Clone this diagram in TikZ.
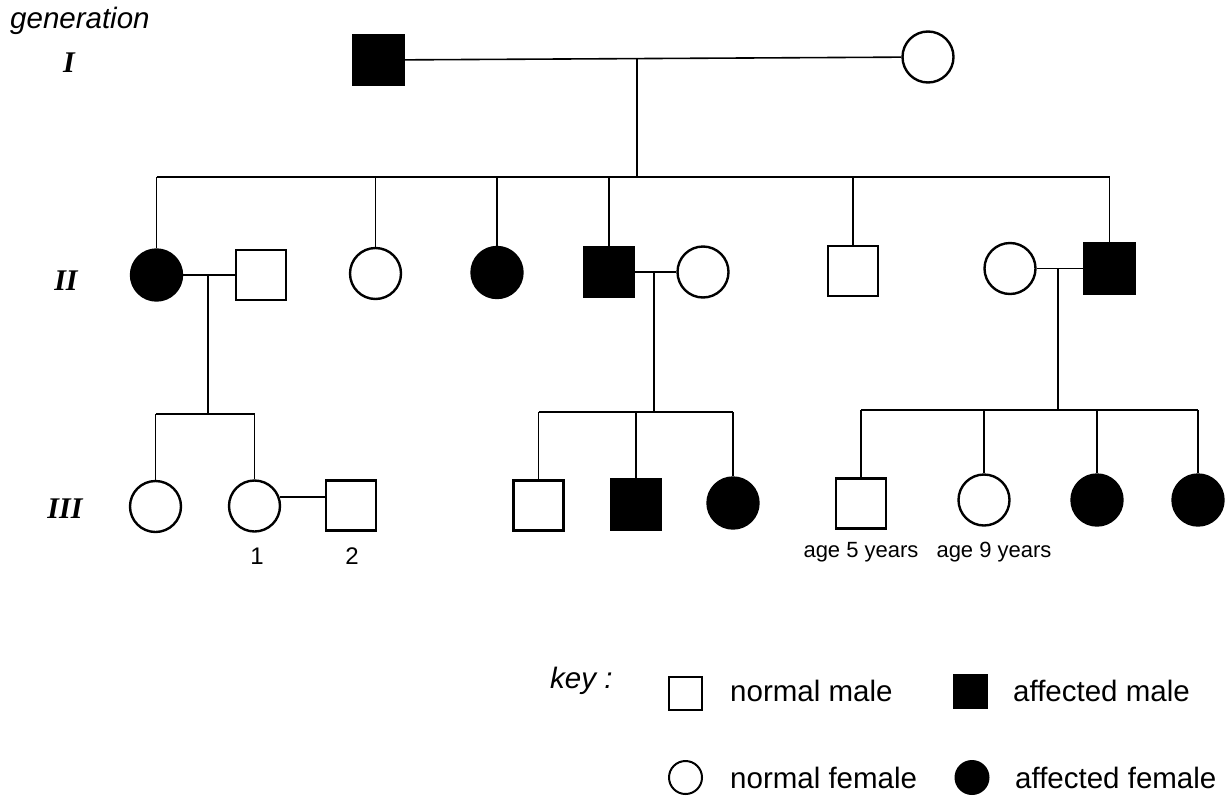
\documentclass[tikz,border=0pt]{standalone}
\usepackage{fontspec}
\setmainfont{Liberation Sans}
\newfontfamily\romfont{Liberation Serif}
\begin{document}
\begin{tikzpicture}[x=1pt,y=-1pt]
\tikzset{
  conn/.style={line width=1.6pt},
  male/.style={draw, rectangle, line width=2.4pt, minimum size=50pt, inner sep=0pt, fill=white},
  female/.style={draw, circle, line width=2.4pt, minimum size=51pt, inner sep=0pt, fill=white},
  aff/.style={fill=black},
  kmale/.style={draw, rectangle, line width=2pt, minimum size=33pt, inner sep=0pt, fill=white},
  kfemale/.style={draw, circle, line width=2pt, minimum size=33pt, inner sep=0pt, fill=white},
  lab/.style={font=\fontsize{29.5}{34}\selectfont, inner sep=0pt},
  gen/.style={font=\fontsize{30}{34}\selectfont\romfont\bfseries\itshape, inner sep=0pt},
  num/.style={font=\fontsize{24}{28}\selectfont, inner sep=0pt},
  small/.style={font=\fontsize{22}{26}\selectfont, inner sep=0pt}
}
\useasboundingbox (0,0) rectangle (1230,795);

% generation labels
\node[lab, anchor=base west] (tgen) at (10,28) {\itshape generation};
\node[gen, anchor=base] (gI) at (69,72) {I};
\node[gen, anchor=base] (gII) at (66,290) {II};
\node[gen, anchor=base] (gIII) at (65,518) {III};

% generation I
\node[male, aff] (m1) at (378.5,60) {};
\node[female] (f1) at (928,57) {};

% generation II
\node[female, aff] (a1) at (156.5,275) {};
\node[male] (a1s) at (261,275) {};
\node[female] (a2) at (375.5,273.5) {};
\node[female, aff] (a3) at (497,272.5) {};
\node[male, aff] (a4) at (609,272) {};
\node[female] (a4s) at (703,272) {};
\node[male] (a5) at (853,271) {};
\node[female] (a6) at (1010,268.5) {};
\node[male, aff] (a7) at (1109.5,268.5) {};

% generation III
\node[female] (b1) at (155.5,506.5) {};
\node[female] (b2) at (254.5,506) {};
\node[male] (b3) at (351,505.5) {};
\node[male] (b4) at (538.5,505.5) {};
\node[male, aff] (b5) at (636,504.5) {};
\node[female, aff] (b6) at (733,503) {};
\node[male] (b7) at (861,503.5) {};
\node[female] (b8) at (984,500) {};
\node[female, aff] (b9) at (1097,500) {};
\node[female, aff] (b10) at (1198,500) {};

\node[num, anchor=base] (n1) at (257,564) {1};
\node[num, anchor=base] (n2) at (352,564) {2};
\node[small, anchor=base] (age5) at (861,557) {age 5 years};
\node[small, anchor=base] (age9) at (994,557) {age 9 years};

% coordinates
\coordinate (mI) at (637,58.5);
\coordinate (sII) at (0,177);
\coordinate (mA1) at (208,275);
\coordinate (sA1) at (0,414);
\coordinate (mA4) at (654,272);
\coordinate (sA4) at (0,412);
\coordinate (mA6) at (1058,268.5);
\coordinate (sA6) at (0,410);

% connectors generation I
\draw[conn] (m1) -- (f1);
\draw[conn] (mI) -- (mI |- sII);
\draw[conn] (a1.north |- sII) -- (a7.north |- sII);
\foreach \n in {a1,a2,a3,a4,a5,a7}{
  \draw[conn] (\n.north |- sII) -- (\n.north);
}

% family II-1
\draw[conn] (a1) -- (a1s);
\draw[conn] (mA1) -- (mA1 |- sA1);
\draw[conn] (b1.north |- sA1) -- (b2.north |- sA1);
\draw[conn] (b1.north |- sA1) -- (b1.north);
\draw[conn] (b2.north |- sA1) -- (b2.north);
\draw[conn] (b2.20) -- (b2.20 -| b3.west);

% family II-4
\draw[conn] (a4) -- (a4s);
\draw[conn] (mA4) -- (mA4 |- sA4);
\draw[conn] (b4.north |- sA4) -- (b6.north |- sA4);
\foreach \n in {b4,b5,b6}{
  \draw[conn] (\n.north |- sA4) -- (\n.north);
}

% family II-6
\draw[conn] (a6) -- (a7);
\draw[conn] (mA6) -- (mA6 |- sA6);
\draw[conn] (b7.north |- sA6) -- (b10.north |- sA6);
\foreach \n in {b7,b8,b9,b10}{
  \draw[conn] (\n.north |- sA6) -- (\n.north);
}

% key
\node[lab, anchor=base west] (key) at (550,688) {\itshape key :};
\node[kmale] (k1) at (685.5,693) {};
\node[lab, anchor=base west] (t1) at (730,701) {normal male};
\node[kmale, aff] (k2) at (970.5,691) {};
\node[lab, anchor=base west] (t2) at (1013,701) {affected male};
\node[kfemale] (k3) at (685.5,777.5) {};
\node[lab, anchor=base west] (t3) at (730,788) {normal female};
\node[kfemale, aff] (k4) at (972,777.5) {};
\node[lab, anchor=base west] (t4) at (1015,788) {affected female};
\end{tikzpicture}
\end{document}
